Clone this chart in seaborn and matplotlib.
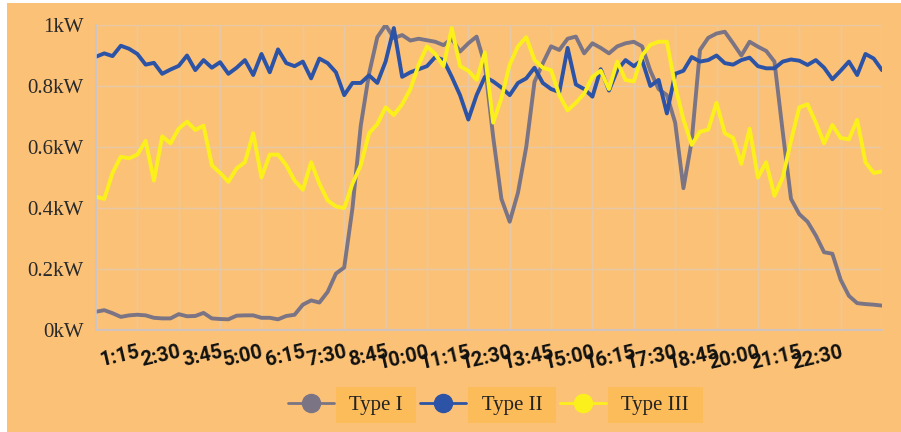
import matplotlib.pyplot as plt
import seaborn as sns
import pandas as pd
import numpy as np
from matplotlib.lines import Line2D
from matplotlib.patches import Rectangle

# 15-minute readings, 0:00 .. 23:45 (96 slots), values in kW
type1 = [0.060, 0.065, 0.055, 0.043, 0.048, 0.050, 0.048, 0.040, 0.038, 0.038,
         0.052, 0.045, 0.046, 0.056, 0.038, 0.036, 0.035, 0.047, 0.048, 0.048,
         0.040, 0.040, 0.035, 0.046, 0.050, 0.083, 0.097, 0.090, 0.125, 0.185,
         0.205, 0.400, 0.670, 0.840, 0.960, 1.000, 0.957, 0.967, 0.949, 0.955,
         0.950, 0.945, 0.934, 0.955, 0.913, 0.940, 0.962, 0.870, 0.634, 0.430,
         0.355, 0.450, 0.600, 0.814, 0.874, 0.930, 0.918, 0.955, 0.962, 0.907,
         0.940, 0.925, 0.907, 0.930, 0.940, 0.945, 0.930, 0.850, 0.790, 0.770,
         0.680, 0.465, 0.620, 0.918, 0.958, 0.972, 0.978, 0.940, 0.900, 0.945,
         0.929, 0.915, 0.880, 0.650, 0.430, 0.380, 0.355, 0.310, 0.255, 0.250,
         0.165, 0.112, 0.088, 0.085, 0.083, 0.080]
type2 = [0.896, 0.907, 0.898, 0.932, 0.922, 0.905, 0.870, 0.876, 0.840, 0.854,
         0.866, 0.900, 0.852, 0.885, 0.860, 0.878, 0.840, 0.860, 0.885, 0.836,
         0.905, 0.845, 0.920, 0.875, 0.865, 0.880, 0.825, 0.890, 0.875, 0.845,
         0.770, 0.810, 0.810, 0.835, 0.810, 0.880, 0.990, 0.830, 0.845, 0.855,
         0.865, 0.895, 0.885, 0.830, 0.770, 0.690, 0.770, 0.830, 0.815, 0.795,
         0.770, 0.810, 0.825, 0.860, 0.810, 0.790, 0.780, 0.925, 0.805, 0.790,
         0.765, 0.855, 0.785, 0.852, 0.885, 0.865, 0.885, 0.800, 0.820, 0.710,
         0.840, 0.850, 0.895, 0.880, 0.885, 0.900, 0.875, 0.870, 0.885, 0.893,
         0.865, 0.858, 0.858, 0.880, 0.887, 0.883, 0.869, 0.885, 0.860, 0.822,
         0.850, 0.880, 0.836, 0.905, 0.890, 0.852]
type3 = [0.437, 0.430, 0.515, 0.568, 0.563, 0.575, 0.620, 0.490, 0.635, 0.612,
         0.660, 0.683, 0.656, 0.670, 0.540, 0.515, 0.486, 0.530, 0.550, 0.645,
         0.500, 0.575, 0.575, 0.540, 0.490, 0.460, 0.550, 0.480, 0.425, 0.405,
         0.400, 0.480, 0.540, 0.645, 0.675, 0.730, 0.705, 0.740, 0.790, 0.870,
         0.930, 0.905, 0.865, 0.990, 0.865, 0.850, 0.820, 0.910, 0.680, 0.760,
         0.870, 0.930, 0.960, 0.885, 0.860, 0.852, 0.770, 0.720, 0.745, 0.775,
         0.830, 0.850, 0.790, 0.880, 0.820, 0.815, 0.900, 0.935, 0.945, 0.945,
         0.800, 0.690, 0.607, 0.650, 0.657, 0.745, 0.645, 0.630, 0.545, 0.660,
         0.500, 0.550, 0.440, 0.500, 0.620, 0.730, 0.740, 0.680, 0.612, 0.672,
         0.630, 0.625, 0.689, 0.550, 0.515, 0.520]

tick_labels = ['1:15', '2:30', '3:45', '5:00', '6:15', '7:30', '8:45', '10:00', '11:15',
               '12:30', '13:45', '15:00', '16:15', '17:30', '18:45', '20:00', '21:15', '22:30']
y_ticks = [0, 0.2, 0.4, 0.6, 0.8, 1.0]
y_labels = ['0kW', '0.2kW', '0.4kW', '0.6kW', '0.8kW', '1kW']
names = ['Type I', 'Type II', 'Type III']
colors = ['#7A7485', '#2C53A6', '#FBF01C']

n = len(type1)
df = pd.DataFrame({
    'slot': np.tile(np.arange(n), 3),
    'kW': type1 + type2 + type3,
    'type': np.repeat(names, n),
})

bg = '#FBC277'
grid_c = '#E6C8A6'
serif = 'Liberation Serif'

sns.set_theme(style='white')
fig, ax = plt.subplots(figsize=(9.01, 4.32), dpi=100)
fig.patch.set_facecolor('white')
fig.patches.append(Rectangle((7 / 901, 0), 1, 1 - 3 / 432, transform=fig.transFigure,
                             facecolor=bg, edgecolor='none', zorder=-10))
ax.set_facecolor(bg)
fig.subplots_adjust(left=96 / 901, right=882 / 901, top=1 - 25 / 432, bottom=1 - 330 / 432)

sns.lineplot(data=df, x='slot', y='kW', hue='type', palette=colors, linewidth=2.8,
             legend=False, ax=ax, solid_joinstyle='round', solid_capstyle='round')

ax.set_xlim(0, n - 1)
ax.set_ylim(0, 1)
ax.set_xticks(np.arange(0, n, 5))
ax.set_xticklabels([''] + tick_labels + [''], rotation=13, ha='right', va='top',
                   rotation_mode='anchor', family='Roboto', weight='bold',
                   fontsize=14.5, color='#111111')
ax.set_yticks(y_ticks)
ax.set_yticklabels(y_labels, family=serif, fontsize=15, color='#2a2a2a')
ax.set_xlabel('')
ax.set_ylabel('')

ax.grid(True, color=grid_c, linewidth=1)
ax.set_axisbelow(True)
ax.tick_params(axis='both', length=5, color=grid_c, pad=4)
for s in ['top', 'right']:
    ax.spines[s].set_visible(False)
for s in ['left', 'bottom']:
    ax.spines[s].set_color('#C9C4CC')
    ax.spines[s].set_linewidth(1.2)

handles = [Line2D([0], [0], color=c, marker='o', markersize=13, linewidth=2) for c in colors]
leg = fig.legend(handles, [' ' + s + ' ' for s in names], loc='center',
                 bbox_to_anchor=(491 / 901, 1 - 405 / 432), ncol=3,
                 frameon=False, prop={'family': serif, 'size': 15}, handlelength=2.2,
                 handletextpad=0.5, columnspacing=0.6)
for t in leg.get_texts():
    t.set_color('#222222')
    t.set_bbox(dict(boxstyle='square,pad=0.4', facecolor='#FDBC5A', edgecolor='none'))

fig.savefig('out.png', dpi=100)
